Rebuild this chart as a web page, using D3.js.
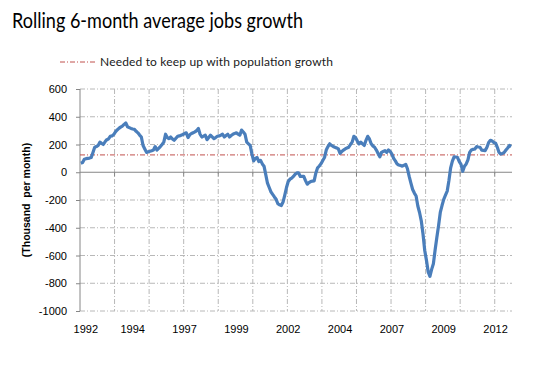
<!DOCTYPE html>
<html>
<head>
<meta charset="utf-8">
<script src="https://cdn.jsdelivr.net/npm/d3@7"></script>
<style>
  body { margin: 0; background: #fff; }
  .tick text { font-family: "Liberation Sans", Arial, sans-serif; font-size: 11px; fill: #000; }
</style>
</head>
<body>
<div class="chart"></div>
<script>
// monthly series, starting Jan 1992 (thousand jobs per month, 6-month rolling avg)
var startYear = 1992;
var jobsGrowth = [
  65, 70, 94, 98, 100, 102, 106, 143, 180, 185,
  193, 217, 208, 200, 220, 235, 240, 259, 262, 272,
  291, 305, 316, 325, 333, 345, 355, 328, 322, 316,
  312, 309, 295, 284, 268, 254, 193, 168, 143, 148,
  151, 155, 160, 185, 160, 172, 185, 200, 217, 274,
  250, 242, 254, 240, 230, 245, 259, 262, 267, 272,
  279, 284, 250, 270, 279, 285, 291, 300, 316, 274,
  254, 260, 267, 235, 250, 267, 255, 242, 250, 259,
  262, 267, 274, 254, 265, 274, 254, 265, 274, 280,
  284, 275, 267, 304, 290, 274, 217, 205, 193, 131,
  82, 100, 106, 77, 86, 60, 44, -17, -79, -110,
  -141, -160, -178, -195, -227, -235, -240, -215, -165, -110,
  -67, -50, -42, -30, -15, -5, -5, -30, -30, -30,
  -60, -86, -75, -67, -64, -62, -5, 32, 45, 62,
  85, 106, 160, 185, 205, 193, 186, 180, 175, 168,
  136, 150, 160, 168, 175, 180, 200, 217, 259, 249,
  225, 205, 217, 205, 193, 230, 259, 240, 205, 190,
  180, 160, 135, 111, 143, 150, 156, 143, 160, 150,
  131, 100, 82, 60, 52, 48, 44, 50, 57, 25,
  -30, -79, -124, -150, -171, -243, -290, -350, -445, -564,
  -635, -719, -750, -700, -660, -560, -470, -386, -290, -240,
  -195, -165, -136, -60, 32, 80, 111, 110, 106, 77,
  57, 7, 44, 60, 90, 143, 160, 165, 168, 185,
  182, 180, 160, 158, 156, 180, 215, 230, 225, 215,
  210, 180, 143, 131, 135, 143, 160, 175, 193, 185
];
var popGrowthNeeded = 125;
var yTicks = [-1000, -800, -600, -400, -200, 0, 200, 400, 600];
var labelEvery = 30;   // months between year labels
var gridEvery = 20;    // months between vertical gridlines

var svgWidth = 557;
var svgHeight = 367;
var plot = { left: 80, right: 512, top: 89, bottom: 311 };

var svg = d3.select(".chart")
  .append("svg")
  .attr("width", svgWidth)
  .attr("height", svgHeight)
  .style("font-family", "'Liberation Sans', Arial, sans-serif");

var months = d3.range(jobsGrowth.length);

var xScale = d3.scaleBand()
  .domain(months)
  .range([plot.left, plot.right]);

var yScale = d3.scaleLinear()
  .domain([-1000, 600])
  .range([plot.bottom, plot.top]);

var mid = function(i) { return xScale(i) + xScale.bandwidth() / 2; };

// title
svg.append("text")
  .attr("x", 12)
  .attr("y", 28)
  .style("font-family", "Lato, 'Open Sans', sans-serif")
  .style("font-size", "21px")
  .attr("textLength", 291)
  .attr("lengthAdjust", "spacingAndGlyphs")
  .attr("fill", "#000")
  .text("Rolling 6-month average jobs growth");

// legend
svg.append("line")
  .attr("x1", 60).attr("x2", 95)
  .attr("y1", 62).attr("y2", 62)
  .attr("stroke", "#c0504d")
  .attr("stroke-width", 1)
  .attr("stroke-dasharray", "5,2,1,2");

svg.append("text")
  .attr("x", 100)
  .attr("y", 66)
  .style("font-family", "Lato, 'Open Sans', sans-serif")
  .style("font-size", "12px")
  .attr("textLength", 233)
  .attr("fill", "#1a1a1a")
  .text("Needed to keep up with population growth");

// horizontal gridlines
svg.append("g")
  .selectAll("line")
  .data(yTicks.filter(function(d) { return d !== 0; }))
  .enter()
  .append("line")
  .attr("x1", plot.left)
  .attr("x2", plot.right)
  .attr("y1", function(d) { return yScale(d); })
  .attr("y2", function(d) { return yScale(d); })
  .attr("stroke", "#b8b8b8")
  .attr("stroke-dasharray", "5,2,1,2");

// vertical gridlines
var gridMonths = months.filter(function(i) { return i > 0 && i % gridEvery === 0; });
svg.append("g")
  .selectAll("line")
  .data(gridMonths)
  .enter()
  .append("line")
  .attr("x1", function(i) { return xScale(i); })
  .attr("x2", function(i) { return xScale(i); })
  .attr("y1", plot.top)
  .attr("y2", plot.bottom)
  .attr("stroke", "#b8b8b8")
  .attr("stroke-dasharray", "5,2,1,2");

// y axis
var leftAxis = d3.axisLeft(yScale)
  .tickValues(yTicks)
  .tickSize(4)
  .tickPadding(9)
  .tickFormat(function(d) { return String(d); });

var yAxisG = svg.append("g")
  .attr("transform", "translate(" + plot.left + ",0)")
  .call(leftAxis);
yAxisG.selectAll("line, path").attr("stroke", "#868686");
yAxisG.select(".domain").attr("d", "M0," + plot.top + "V" + plot.bottom);

// zero line (category axis) with tick marks
svg.append("line")
  .attr("x1", plot.left)
  .attr("x2", plot.right)
  .attr("y1", yScale(0))
  .attr("y2", yScale(0))
  .attr("stroke", "#868686");

svg.append("g")
  .selectAll("line")
  .data(gridMonths)
  .enter()
  .append("line")
  .attr("x1", function(i) { return xScale(i); })
  .attr("x2", function(i) { return xScale(i); })
  .attr("y1", yScale(0))
  .attr("y2", yScale(0) + 4)
  .attr("stroke", "#868686");

// year labels at the bottom
var labelMonths = months.filter(function(i) { return i % labelEvery === 0; });
svg.append("g")
  .selectAll("text")
  .data(labelMonths)
  .enter()
  .append("text")
  .attr("x", function(i) { return mid(i) + (i === 0 ? 5 : 0); })
  .attr("y", 333)
  .attr("text-anchor", "middle")
  .style("font-size", "11px")
  .attr("fill", "#000")
  .text(function(i) { return startYear + Math.floor(i / 12); });

// y axis title
svg.append("text")
  .attr("transform", "translate(30," + ((plot.top + plot.bottom) / 2) + ") rotate(-90)")
  .attr("text-anchor", "middle")
  .style("font-size", "10.5px")
  .style("font-weight", "bold")
  .attr("fill", "#000")
  .attr("xml:space", "preserve")
  .text("(Thousand  per month)");

// population-growth reference line
svg.append("line")
  .attr("x1", plot.left)
  .attr("x2", plot.right)
  .attr("y1", yScale(popGrowthNeeded))
  .attr("y2", yScale(popGrowthNeeded))
  .attr("stroke", "#c0504d")
  .attr("stroke-width", 1)
  .attr("stroke-dasharray", "5,2,1,2");

// jobs line
var line = d3.line()
  .x(function(d, i) { return mid(i); })
  .y(function(d) { return yScale(d); });

svg.append("path")
  .datum(jobsGrowth)
  .attr("d", line)
  .attr("fill", "none")
  .attr("stroke", "#4a7ebb")
  .attr("stroke-width", 3.2)
  .attr("stroke-linejoin", "round");
</script>
</body>
</html>
